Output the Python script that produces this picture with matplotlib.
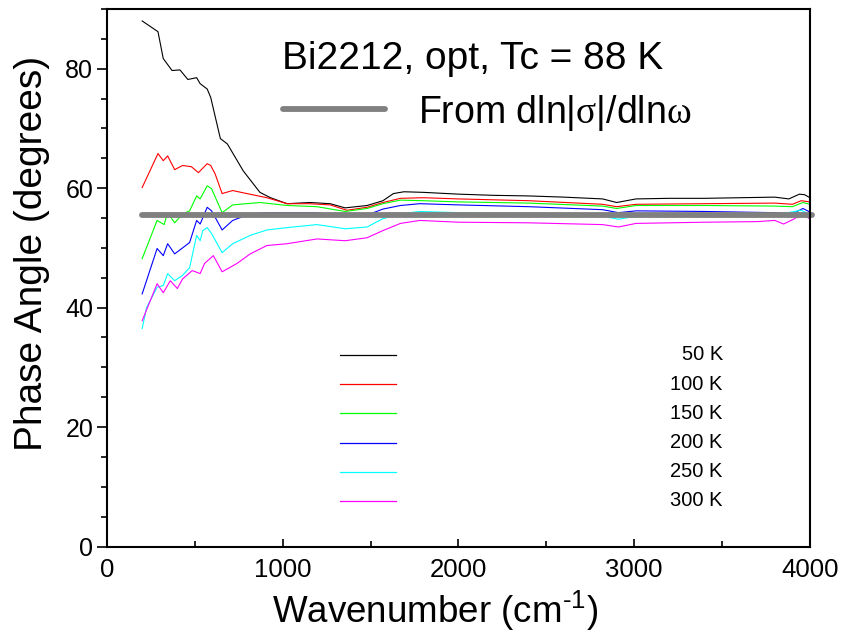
import matplotlib
matplotlib.use('Agg')
import matplotlib.pyplot as plt
import matplotlib.ticker as ticker

plt.rcParams['font.family'] = ['Liberation Sans', 'DejaVu Sans']
plt.rcParams['mathtext.fontset'] = 'custom'
plt.rcParams['mathtext.rm'] = 'Liberation Sans'
plt.rcParams['mathtext.it'] = 'Liberation Sans:italic'
plt.rcParams['mathtext.sf'] = 'Liberation Serif'

# Phase angle curves (wavenumber in cm^-1, angle in degrees)
x_50 = [200, 290, 320, 370, 415, 460, 510, 530, 570, 590, 645, 685, 775, 870, 930,
        1025, 1155, 1270, 1355, 1480, 1570, 1630, 1690, 1800, 2000, 2200, 2400, 2600,
        2820, 2900, 3010, 3200, 3400, 3600, 3800, 3880, 3940, 3970, 4000]
y_50 = [88.0, 86.2, 81.7, 79.7, 79.8, 78.2, 78.5, 77.5, 76.6, 75.2, 68.3, 67.4, 62.9, 59.3, 58.4,
        57.4, 57.6, 57.4, 56.7, 57.1, 57.9, 59.1, 59.4, 59.3, 59.0, 58.8, 58.7, 58.5,
        58.2, 57.6, 58.2, 58.3, 58.3, 58.4, 58.5, 58.2, 59.0, 58.9, 58.4]

x_100 = [200, 290, 320, 345, 385, 430, 480, 520, 570, 590, 615, 655, 715, 795, 910,
         1025, 1150, 1270, 1365, 1480, 1570, 1670, 1800, 2000, 2400, 2820, 2900, 3010,
         3400, 3800, 3900, 3950, 4000]
y_100 = [60.1, 65.8, 64.6, 65.4, 63.1, 63.8, 63.6, 62.6, 64.1, 63.8, 62.4, 59.1, 59.6, 59.1, 58.4,
         57.4, 57.4, 57.2, 56.3, 56.8, 57.6, 58.3, 58.4, 58.2, 57.9, 57.3, 56.9, 57.3,
         57.4, 57.5, 57.3, 57.9, 57.7]

x_150 = [200, 285, 325, 345, 385, 430, 470, 510, 530, 570, 595, 655, 715, 870, 1025,
         1195, 1355, 1480, 1570, 1670, 1800, 2000, 2400, 2820, 2900, 3010, 3400, 3800,
         3900, 3960, 4000]
y_150 = [48.2, 54.6, 53.9, 55.9, 54.2, 55.7, 56.2, 58.7, 58.2, 60.4, 59.9, 55.9, 57.2, 57.6, 57.1,
         56.9, 56.1, 56.6, 57.4, 58.0, 57.9, 57.7, 57.5, 57.0, 56.6, 57.1, 57.1, 57.0,
         56.9, 57.6, 57.3]

x_200 = [200, 285, 320, 345, 385, 430, 470, 510, 530, 570, 595, 655, 715, 815, 910,
         1025, 1195, 1355, 1480, 1570, 1670, 1780, 2000, 2400, 2820, 2910, 3010, 3400,
         3800, 3900, 3960, 4000]
y_200 = [42.3, 49.9, 48.7, 50.7, 49.0, 50.0, 50.9, 54.6, 54.0, 56.8, 56.2, 53.0, 54.6, 55.7, 55.9,
         55.9, 55.9, 55.2, 55.5, 56.5, 57.1, 57.4, 57.2, 56.9, 56.4, 55.9, 56.2, 56.1,
         55.9, 55.7, 56.6, 56.0]

x_250 = [200, 225, 285, 320, 345, 385, 430, 470, 510, 530, 545, 570, 595, 655, 715,
         815, 910, 1025, 1195, 1355, 1480, 1570, 1670, 1780, 2000, 2400, 2820, 2910,
         3010, 3400, 3800, 3950, 4000]
y_250 = [36.5, 40.0, 43.4, 43.7, 45.7, 44.5, 45.4, 46.7, 52.1, 51.2, 52.9, 53.4, 52.4, 49.2, 50.7,
         52.1, 53.0, 53.4, 53.9, 53.2, 53.5, 54.9, 55.7, 56.1, 55.9, 55.6, 55.3, 54.8,
         55.3, 55.4, 55.5, 56.3, 55.6]

x_300 = [200, 285, 320, 360, 400, 430, 485, 530, 555, 605, 655, 740, 815, 910, 1025,
         1195, 1355, 1480, 1570, 1670, 1780, 2000, 2400, 2820, 2910, 3010, 3400, 3700,
         3800, 3850, 3900, 3960, 4000]
y_300 = [37.8, 44.0, 42.5, 44.5, 43.2, 44.8, 46.2, 45.7, 47.4, 48.7, 46.0, 47.4, 49.0, 50.4, 50.7,
         51.5, 51.2, 51.7, 52.9, 54.1, 54.6, 54.3, 54.2, 53.9, 53.5, 54.1, 54.3, 54.4,
         54.6, 54.0, 54.7, 55.7, 54.8]

# constant phase from dln|sigma|/dln(omega)
x_const = [200, 4010]
y_const = [55.5, 55.5]

labels = ['50 K', '100 K', '150 K', '200 K', '250 K', '300 K']
colors = ['black', '#ff0000', '#00ff00', '#0000ff', '#00ffff', '#ff00ff']
series = [(x_50, y_50), (x_100, y_100), (x_150, y_150),
          (x_200, y_200), (x_250, y_250), (x_300, y_300)]

fig = plt.figure(figsize=(8.46, 6.34), dpi=100)
ax = fig.add_axes([0.1265, 0.1380, 0.8309, 0.8478])

for (xs, ys), c in zip(series, colors):
    ax.plot(xs, ys, color=c, lw=0.8)

ax.plot(x_const, y_const, color='#808080', lw=4.2, solid_capstyle='round', clip_on=False)

# hand-made legend for temperatures
for i, (lab, c) in enumerate(zip(labels, colors)):
    yy = 0.3563 - i * 0.0543
    ax.plot([0.331, 0.411], [yy, yy], color=c, lw=0.9, transform=ax.transAxes)
    ax.text(0.876, yy, lab, transform=ax.transAxes, ha='right', va='center', fontsize=14.5)

ax.text(0.2490, 0.888, 'Bi2212, opt, Tc = 88 K', transform=ax.transAxes,
        ha='left', va='baseline', fontsize=28)
ax.plot([0.2504, 0.3954], [0.8140, 0.8140], color='#808080', lw=4.2,
        solid_capstyle='round', transform=ax.transAxes)
ax.text(0.4424, 0.788, r'From dln|$\mathsf{\sigma}$|/dln$\mathsf{\omega}$',
        transform=ax.transAxes, ha='left', va='baseline', fontsize=27)

ax.set_xlim(0, 4000)
ax.set_ylim(0, 90)
ax.xaxis.set_major_locator(ticker.MultipleLocator(1000))
ax.xaxis.set_minor_locator(ticker.MultipleLocator(500))
ax.yaxis.set_major_locator(ticker.MultipleLocator(20))
ax.yaxis.set_minor_locator(ticker.MultipleLocator(5))

ax.tick_params(axis='y', which='major', direction='out', length=7, width=1.2, labelsize=18, pad=3)
ax.tick_params(axis='y', which='minor', direction='out', length=4, width=1.2)
ax.tick_params(axis='x', which='major', direction='in', length=6, width=1.2, labelsize=18.5, pad=8)
ax.tick_params(axis='x', which='minor', direction='in', length=4, width=1.2)
for s in ax.spines.values():
    s.set_linewidth(1.5)

ax.set_xlabel(r'Wavenumber (cm$^{\text{-}1}$)', fontsize=26.5, va='baseline')
ax.xaxis.set_label_coords(0.467, -0.1423)
ax.set_ylabel('Phase Angle (degrees)', fontsize=28, va='baseline')
ax.yaxis.set_label_coords(-0.0925, 0.545)

fig.savefig('out.png', dpi=100)
